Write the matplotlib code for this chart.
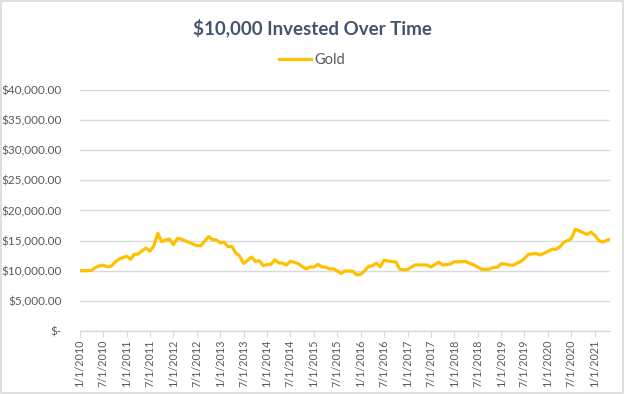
import matplotlib
matplotlib.use("Agg")
import matplotlib.pyplot as plt
from matplotlib.patches import Rectangle
import pandas as pd
import datetime as dt

title = "$10,000 Invested Over Time"
series_name = "Gold"
start_month = "2010-01-01"
gold_values = [
    10000, 10000, 10000, 10050, 10500, 10800, 10900, 10650, 10700, 11400,
    11900, 12150, 12400, 11900, 12700, 12750, 13300, 13750, 13250, 14100,
    16200, 14800, 15100, 15250, 14300, 15350, 15250, 14950, 14700, 14400,
    14150, 14150, 14900, 15650, 15150, 15100, 14600, 14700, 14000, 14000,
    12950, 12400, 11200, 11700, 12250, 11550, 11650, 10850, 11000, 11050,
    11800, 11300, 11250, 10950, 11550, 11400, 11150, 10700, 10300, 10600,
    10600, 11050, 10650, 10600, 10300, 10300, 10000, 9550, 9950, 9950,
    9900, 9300, 9400, 10000, 10700, 10800, 11250, 10650, 11750, 11600,
    11500, 11450, 10250, 10150, 10200, 10600, 10950, 10950, 10950, 10950,
    10600, 11000, 11400, 10950, 11000, 11100, 11500, 11450, 11500, 11500,
    11200, 10950, 10600, 10250, 10200, 10250, 10550, 10550, 11150, 11100,
    10950, 10900, 11200, 11500, 12000, 12700, 12800, 12850, 12600, 12900,
    13200, 13550, 13550, 13900, 14650, 15000, 15300, 16850, 16600, 16300,
    16000, 16400, 15850, 15000, 14750, 15000, 15250,
]
y_ticks = [0, 5000, 10000, 15000, 20000, 25000, 30000, 35000, 40000]
y_tick_labels = ["$-", "$5,000.00", "$10,000.00", "$15,000.00", "$20,000.00",
                 "$25,000.00", "$30,000.00", "$35,000.00", "$40,000.00"]

dates = pd.date_range(start_month, periods=len(gold_values), freq="MS")
x_tick_dates = []
for yr in range(2010, 2022):
    for mo in (1, 7):
        d = dt.datetime(yr, mo, 1)
        if d <= dates[-1]:
            x_tick_dates.append(d)
x_tick_labels = [f"{d.month}/{d.day}/{d.year}" for d in x_tick_dates]

font = "Lato"
text_color = "#595959"
title_color = "#44546A"
grid_color = "#D9D9D9"
line_color = "#FFC000"

fig = plt.figure(figsize=(6.24, 3.94), dpi=100)
fig.patch.set_facecolor("white")
fig.patches.append(Rectangle((0.0015, 0.002), 0.997, 0.996, transform=fig.transFigure,
                             fill=False, edgecolor="#D9D9D9", linewidth=1.2))

ax = fig.add_axes([0.128, 0.160, 0.850, 0.612])
ax.plot(dates, gold_values, color=line_color, linewidth=2.3, label=series_name,
        solid_joinstyle="round")

ax.set_ylim(0, 40000)
ax.set_xlim(dates[0], dates[-1])
ax.set_yticks(y_ticks)
ax.set_yticklabels(y_tick_labels, fontfamily=font, fontsize=8.5, color=text_color)
ax.set_xticks(x_tick_dates)
ax.set_xticklabels(x_tick_labels, rotation=90, fontfamily=font, fontsize=7.8,
                   color=text_color)
ax.tick_params(axis="y", length=0, pad=13)
ax.tick_params(axis="x", length=4, color=grid_color, pad=2.5)
ax.grid(axis="y", color=grid_color, linewidth=1)
ax.set_axisbelow(True)
for s in ["top", "right", "left"]:
    ax.spines[s].set_visible(False)
ax.spines["bottom"].set_color(grid_color)
ax.spines["bottom"].set_linewidth(1)

fig.text(0.5, 0.93, title, ha="center", va="center", fontfamily=font,
         fontweight="bold", fontsize=13.5, color=title_color)
leg = fig.legend(loc="center", bbox_to_anchor=(0.5, 0.848), frameon=False,
                 prop={"family": font, "size": 10.5}, handlelength=2.2,
                 handletextpad=0.2)
for t in leg.get_texts():
    t.set_color(text_color)

fig.savefig("out.png", dpi=100, facecolor="white")
